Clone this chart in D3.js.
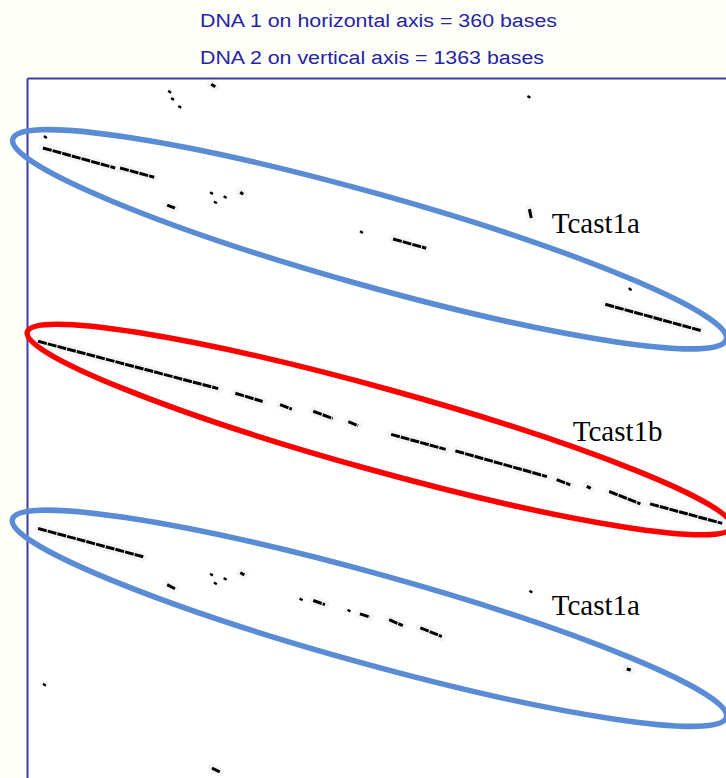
<!DOCTYPE html>
<html>
<head>
<meta charset="utf-8">
<script src="https://cdn.jsdelivr.net/npm/d3@7"></script>
<style>
  body { margin: 0; background: #fffffa; }
  svg { display: block; }
</style>
</head>
<body>
<div id="canvax"></div>
<script>
// sequence lengths
var dna1Length = 360;
var dna2Length = 1363;

var titleLines = ['DNA 1 on horizontal axis = 360 bases', 'DNA 2 on vertical axis = 1363 bases'];

// matching runs [dna1 start, dna2 start, dna1 end, dna2 end] in bases
var tcast1aTop = [[8.2,136,45.3,175],[47.8,175,65.3,193],[72,247,76,253],[188,313,205,331],[297,440,346,491]];
var tcast1b = [[5.7,512,98.2,604],[107,613,121,629],[130,635,136,644],[147,648,157,662],[165,668,170,676],
               [187,693,215,722],[220,725,267,775],[272,781,279,791],[287.5,794,289.5,798],[299,804,315,828],[320,828,357,866]];
var tcast1aBottom = [[5.7,876,59.7,931],[72,985,76,993],[147,1016,153,1024],[171,1042,176,1048],[186,1053,193,1065],[202,1069,213,1086]];
var strayRuns = [[94.6,12,96.7,17],[258,255,259,273],[109.5,222,111,226],[109.5,962,111.6,966],[308,1149,310,1151],[95,1342,99,1349]];

// single dots [dna1, dna2]
var strayDots = [[72.5,25],[74,39],[77.7,54.5],[257,35],[8.7,113],[94,222],[101,230],[96,240],[171,298],[309,409],
                 [94,964],[101,972],[96,981],[140,1012],[164.6,1034],[258,997],[8.2,1178]];

// annotations: major axis ends in bases [x0,y0,x1,y1]
var ringEnds = [[-7.3,118.6,359.1,508.4],[0.15,493.6,361.9,873.3],[-7.5,857.9,359.2,1243.0]];
var ringNames = ['Tcast1a','Tcast1b','Tcast1a'];
var labelPos = [[269.5,301.8],[280.3,704.9],[269.5,1043.6]];

var width = 726;
var height = 778;
var ringColors = ['#5a8cd6','#ff0000','#5a8cd6'];
var ringMinor = [46, 41, 45];

var x = d3.scaleLinear().domain([0, dna1Length]).range([27, 728]);
var y = d3.scaleLinear().domain([0, dna2Length]).range([78, 779]);

var svg1 = d3.select("#canvax")
    .append("svg")
        .attr("height", height)
        .attr("width", width);

svg1.append("rect")
    .attr("x", x(0)).attr("y", y(0))
    .attr("width", x(dna1Length) - x(0))
    .attr("height", y(dna2Length) - y(0))
    .attr("fill", "#ffffff");

svg1.selectAll("text.title")
    .data(titleLines)
    .enter().append("text")
        .attr("class", "title")
        .attr("x", 200)
        .attr("y", function(d,i){ return 27 + i*37; })
        .attr("fill", "#2424a4")
        .attr("font-family", "Arial, 'Liberation Sans', sans-serif")
        .attr("font-size", 18)
        .attr("textLength", function(d,i){ return i == 0 ? 357 : 344; })
        .attr("lengthAdjust", "spacingAndGlyphs")
        .text(function(d){ return d; });

// border = bare axes
var topAxis = d3.axisTop(x).tickValues([]).tickSizeOuter(0);
var leftAxis = d3.axisLeft(y).tickValues([]).tickSizeOuter(0);

svg1.append("g").attr("transform", "translate(0," + y(0) + ")").call(topAxis)
    .select(".domain").attr("stroke", "#3c3ca4").attr("stroke-width", 2);
svg1.append("g").attr("transform", "translate(" + x(0) + ",0)").call(leftAxis)
    .select(".domain").attr("stroke", "#3c3ca4").attr("stroke-width", 2);

var runs = tcast1aTop.concat(tcast1b, tcast1aBottom, strayRuns);

// faint halo round the hits
svg1.selectAll("line.halo")
    .data(runs)
    .enter().append("line")
        .attr("class", "halo")
        .attr("x1", function(d){ return x(d[0]); })
        .attr("y1", function(d){ return y(d[1]); })
        .attr("x2", function(d){ return x(d[2]); })
        .attr("y2", function(d){ return y(d[3]); })
        .attr("stroke", "#f5f5f5")
        .attr("stroke-width", 9)
        .attr("stroke-linecap", "round");

svg1.selectAll("line.hit")
    .data(runs)
    .enter().append("line")
        .attr("class", "hit")
        .attr("x1", function(d){ return x(d[0]); })
        .attr("y1", function(d){ return y(d[1]); })
        .attr("x2", function(d){ return x(d[2]); })
        .attr("y2", function(d){ return y(d[3]); })
        .attr("stroke", "#000")
        .attr("stroke-width", 3)
        .attr("stroke-dasharray", "9,1");

svg1.selectAll("line.dot")
    .data(strayDots)
    .enter().append("line")
        .attr("class", "dot")
        .attr("x1", function(d){ return x(d[0]); })
        .attr("y1", function(d){ return y(d[1]); })
        .attr("x2", function(d){ return x(d[0] + 1.5); })
        .attr("y2", function(d){ return y(d[1] + 3.5); })
        .attr("stroke", "#000")
        .attr("stroke-width", 2.4);

// rings
svg1.selectAll("ellipse")
    .data(ringEnds)
    .enter().append("ellipse")
        .attr("transform", function(d){
            var x0 = x(d[0]), y0 = y(d[1]), x1 = x(d[2]), y1 = y(d[3]);
            var ang = Math.atan2(y1 - y0, x1 - x0) * 180 / Math.PI;
            return "translate(" + (x0 + x1)/2 + "," + (y0 + y1)/2 + ") rotate(" + ang + ")";
        })
        .attr("rx", function(d){ return Math.hypot(x(d[2]) - x(d[0]), y(d[3]) - y(d[1])) / 2; })
        .attr("ry", function(d,i){ return ringMinor[i]; })
        .attr("fill", "none")
        .attr("stroke", function(d,i){ return ringColors[i]; })
        .attr("stroke-width", 5.5);

svg1.selectAll("text.name")
    .data(ringNames)
    .enter().append("text")
        .attr("class", "name")
        .attr("x", function(d,i){ return x(labelPos[i][0]); })
        .attr("y", function(d,i){ return y(labelPos[i][1]); })
        .attr("fill", "#000")
        .attr("font-family", "'Times New Roman', 'Liberation Serif', serif")
        .attr("font-size", 29)
        .text(function(d){ return d; });
</script>
</body>
</html>
